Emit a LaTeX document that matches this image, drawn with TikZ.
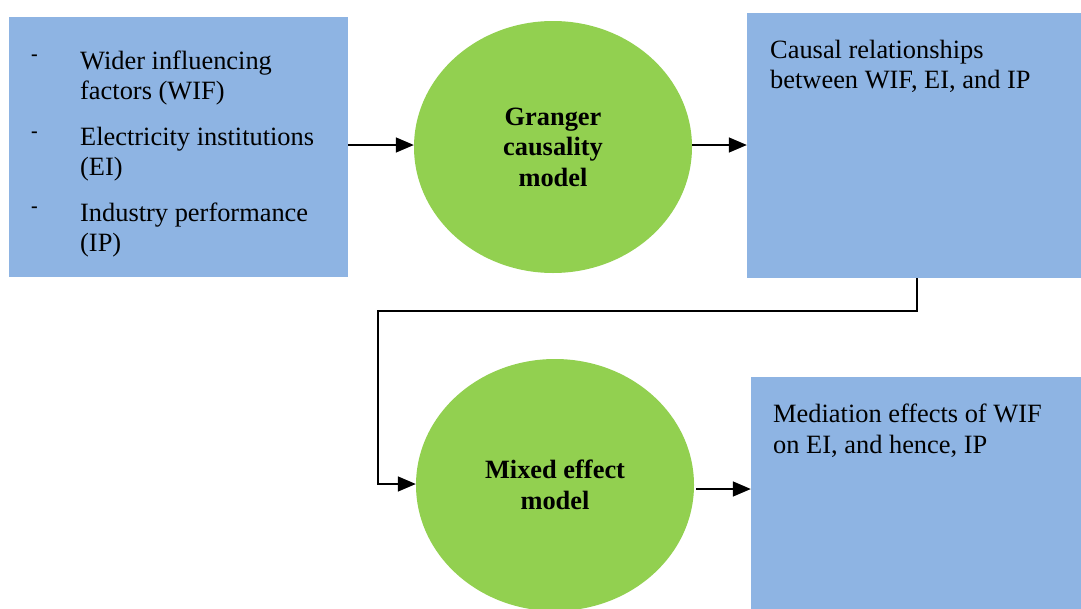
\documentclass[tikz,border=0pt]{standalone}
\usepackage{fontspec}
\setmainfont{Liberation Serif}
\usetikzlibrary{shapes.geometric,arrows.meta,calc}
\definecolor{boxblue}{RGB}{142,180,227}
\definecolor{ellgreen}{RGB}{146,208,80}
\tikzset{
  bluebox/.style={fill=boxblue,draw=none,rectangle,inner sep=0pt},
  greenell/.style={fill=ellgreen,draw=none,ellipse,inner sep=0pt,minimum width=278pt,minimum height=252pt,align=center,font=\fontsize{26.4}{30.4}\selectfont\bfseries},
  txt/.style={anchor=base west,inner sep=0pt,font=\fontsize{26.4}{30.4}\selectfont},
  dashmark/.style={anchor=base west,inner sep=0pt,font=\fontsize{20}{22}\selectfont\bfseries},
  conn/.style={line width=1.6pt,-{Triangle[length=18pt,width=15pt]}}
}
\begin{document}
\begin{tikzpicture}[x=1pt,y=-1pt]
\path[use as bounding box,clip] (0,0) rectangle (1081,608);
\fill[white] (0,0) rectangle (1081,608);
% boxes
\node[bluebox,minimum width=339pt,minimum height=260pt] (box1) at (178.5,147) {};
\node[bluebox,minimum width=334pt,minimum height=265pt] (box2) at (914,145.5) {};
\node[bluebox,minimum width=330pt,minimum height=240pt] (box3) at (916,497) {};
% ellipses
\node[greenell] (ell1) at (553,147) {Granger\\causality\\model};
\node[greenell] (ell2) at (555,485) {Mixed effect\\model};
% box1 text
\node[dashmark] (d1) at (31,60) {-};
\node[dashmark] (d2) at (31,137) {-};
\node[dashmark] (d3) at (31,212) {-};
\node[txt] (t1a) at (80,69) {Wider influencing};
\node[txt] (t1b) at (80,99) {factors (WIF)};
\node[txt] (t2a) at (80,145) {Electricity institutions};
\node[txt] (t2b) at (80,175) {(EI)};
\node[txt] (t3a) at (80,221) {Industry performance};
\node[txt] (t3b) at (80,251) {(IP)};
% box2 text
\node[txt] (b2a) at (770,58) {Causal relationships};
\node[txt] (b2b) at (770,88) {between WIF, EI, and IP};
% box3 text
\node[txt] (b3a) at (773,422) {Mediation effects of WIF};
\node[txt] (b3b) at (773,453) {on EI, and hence, IP};
% connectors
\coordinate (c1) at (378,311);
\draw[conn] ([yshift=2pt]box1.east |- ell1.west) -- ([yshift=2pt]ell1.west);
\draw[conn] ([yshift=2pt]ell1.east) -- ([yshift=2pt]ell1.east -| box2.west);
\draw[conn] ([xshift=3pt]box2.south) |- (c1) |- ([yshift=1pt]ell2.west);
\draw[conn] ([xshift=2pt,yshift=-4pt]ell2.east) -- ([yshift=-4pt]ell2.east -| box3.west);
\end{tikzpicture}
\end{document}
